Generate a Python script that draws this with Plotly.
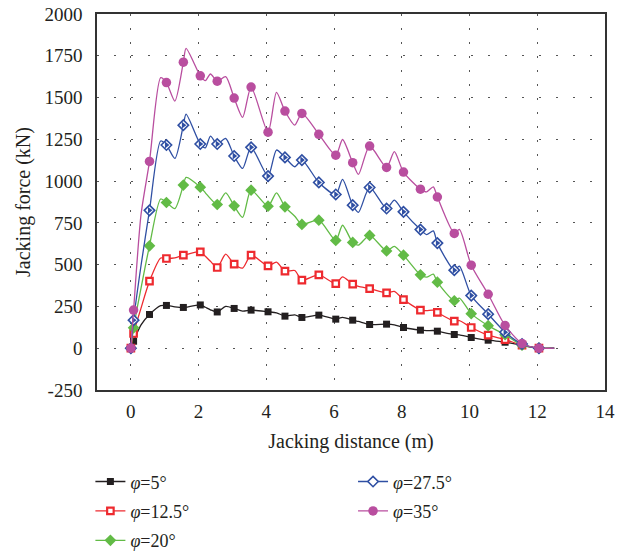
import plotly.graph_objects as go

# ---------------- data ----------------
dist = [0, 0.08, 0.3, 0.55, 0.88, 1.05, 1.3, 1.55, 1.63, 2.05, 2.2, 2.35, 2.55, 2.8,
        3.05, 3.3, 3.55, 4.05, 4.3, 4.55, 4.84, 5.05, 5.55, 6.05, 6.25, 6.55, 6.72,
        7.05, 7.55, 7.78, 8.05, 8.55, 8.73, 8.93, 9.05, 9.55, 9.7, 10.05, 10.55,
        11.05, 11.55, 12.05, 12.5]

marker_dist = [0, 0.08, 0.55, 1.05, 1.55, 2.05, 2.55, 3.05, 3.55, 4.05, 4.55, 5.05,
               5.55, 6.05, 6.55, 7.05, 7.55, 8.05, 8.55, 9.05, 9.55, 10.05, 10.55,
               11.05, 11.55, 12.05]

force_5 = [0, 42, 140, 202, 255, 256, 248, 244, 246, 259, 245, 230, 217, 250,
           238, 222, 228, 218, 212, 192, 200, 184, 198, 174, 185, 168, 160,
           142, 144, 140, 124, 108, 105, 106, 102, 82, 80, 64, 48,
           36, 18, 0, 0]
force_12_5 = [0, 88, 240, 401, 540, 537, 540, 557, 560, 577, 550, 520, 483, 563,
              503, 480, 557, 493, 515, 461, 465, 407, 439, 387, 427, 383, 370,
              357, 331, 340, 291, 228, 225, 228, 214, 162, 165, 124, 78,
              52, 18, 0, 0]
force_20 = [0, 122, 360, 613, 893, 872, 836, 976, 1022, 964, 930, 895, 860, 930,
            852, 783, 946, 850, 930, 846, 790, 741, 766, 645, 736, 633, 617,
            675, 582, 610, 557, 439, 425, 443, 395, 284, 300, 207, 135,
            81, 18, 0, 0]
force_27_5 = [0, 168, 495, 825, 1240, 1216, 1136, 1335, 1401, 1222, 1199, 1269, 1222, 1255,
              1150, 1076, 1202, 1030, 1186, 1142, 1086, 1126, 992, 920, 1010, 856, 813,
              962, 836, 886, 816, 710, 680, 702, 629, 467, 491, 315, 204,
              96, 25, 0, 0]
force_35 = [0, 228, 800, 1118, 1619, 1590, 1479, 1712, 1794, 1630, 1601, 1641, 1598, 1625,
            1497, 1381, 1563, 1293, 1531, 1419, 1335, 1405, 1280, 1155, 1249, 1110, 1040,
            1210, 1082, 1176, 1054, 952, 936, 966, 905, 687, 711, 497, 323,
            136, 28, 0, 0]

series_names = ["<i>φ</i>=5°", "<i>φ</i>=12.5°", "<i>φ</i>=20°", "<i>φ</i>=27.5°", "<i>φ</i>=35°"]
x_ticks = [0, 2, 4, 6, 8, 10, 12, 14]
y_ticks = [-250, 0, 250, 500, 750, 1000, 1250, 1500, 1750, 2000]
y_tick_text = ["-250", "0", "250", "500", "750", "1000", "1250", "1500", "1750", "2000"]

# ---------------- styling ----------------
colors = ["#231f20", "#ee2a2f", "#62bb46", "#2f4fa3", "#b94e9f"]
all_forces = [force_5, force_12_5, force_20, force_27_5, force_35]

fig = go.Figure()

def marker_points(ys):
    mx, my = [], []
    for x, y in zip(dist, ys):
        if x in marker_dist:
            mx.append(x)
            my.append(y)
    return mx, my

marker_styles = [
    dict(symbol="square", size=7, color=colors[0], line=dict(width=0)),
    dict(symbol="square", size=6.5, color="white", line=dict(color=colors[1], width=2.2)),
    dict(symbol="diamond", size=9, color=colors[2], line=dict(width=0)),
    dict(symbol="diamond", size=8, color="white", line=dict(color=colors[3], width=1.6)),
    dict(symbol="circle", size=9.5, color=colors[4], line=dict(width=0)),
]

for i, ys in enumerate(all_forces):
    fig.add_trace(go.Scatter(x=dist, y=ys, mode="lines",
                             line=dict(color=colors[i], width=1.3, shape="spline", smoothing=0.7),
                             showlegend=False, hoverinfo="skip"))
    mx, my = marker_points(ys)
    fig.add_trace(go.Scatter(x=mx, y=my, mode="markers", marker=marker_styles[i],
                             showlegend=False))
    if i == 3:
        # filled right half of the diamond
        fig.add_trace(go.Scatter(x=mx, y=my, mode="markers",
                                 marker=dict(symbol="triangle-right", size=6, color=colors[3],
                                             line=dict(width=0)),
                                 showlegend=False))

# legend entries: first column (5, 12.5, 20) in legend, second (27.5, 35) in legend2
for i in range(5):
    fig.add_trace(go.Scatter(x=[None], y=[None], mode="lines+markers", name=series_names[i],
                             line=dict(color=colors[i], width=1.3),
                             marker=marker_styles[i],
                             legend="legend" if i < 3 else "legend2",
                             legendgroup="g%d" % i))

axis_common = dict(showline=True, linecolor="#333333", linewidth=1.5, mirror=True,
                   zeroline=False, showgrid=True, gridcolor="#555555", gridwidth=1.4,
                   ticks="", ticklabeloverflow="allow",
                   tickfont=dict(family="Liberation Serif", size=19, color="#231f20"))

fig.update_xaxes(range=[-1, 14], tickvals=x_ticks, griddash="1.5px,12.5px",
                 title=dict(text="Jacking distance (m)", font=dict(family="Liberation Serif", size=20,
                                                                  color="#231f20"), standoff=13),
                 ticklabelstandoff=3, **axis_common)
fig.update_yaxes(range=[-250, 2000], tickvals=y_ticks, ticktext=y_tick_text,
                 griddash="1.5px,15.5px",
                 title=dict(text="Jacking force (kN)", font=dict(family="Liberation Serif", size=20,
                                                                color="#231f20"), standoff=8),
                 ticklabelstandoff=9, **axis_common)

legend_common = dict(orientation="v", yanchor="top", xanchor="left", tracegroupgap=3,
                     font=dict(family="Liberation Serif", size=18, color="#231f20"),
                     bgcolor="rgba(0,0,0,0)")

fig.update_layout(
    width=627, height=559,
    margin=dict(l=97, r=22, t=14, b=169, autoexpand=False),
    paper_bgcolor="white", plot_bgcolor="white",
    font=dict(family="Liberation Serif", size=18, color="#231f20"),
    legend=dict(x=-0.013, y=-0.195, **legend_common),
    legend2=dict(x=0.504, y=-0.195, **legend_common),
)

fig.write_html("out.html", config={"displayModeBar": False},
               post_script="document.body.style.margin='0px';")
